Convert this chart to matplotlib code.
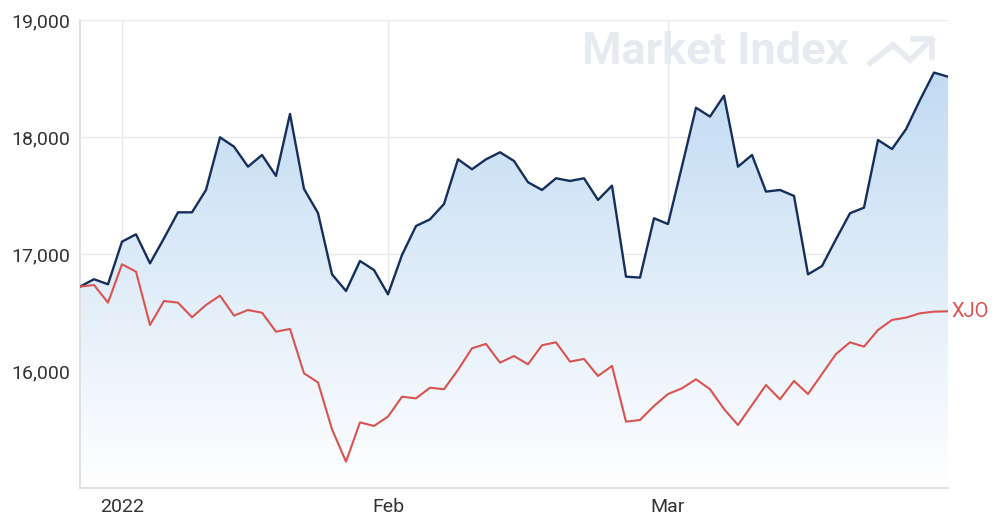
import matplotlib
matplotlib.use("Agg")
import matplotlib.pyplot as plt
import numpy as np
from matplotlib.colors import LinearSegmentedColormap

# trading-day index, values (both series rebased to the same start)
stock = [16721, 16784, 16741, 17105, 17168, 16920, 17134, 17356, 17356, 17547,
         17997, 17917, 17746, 17846, 17667, 18197, 17556, 17350, 16826, 16684,
         16940, 16863, 16655, 16991, 17239, 17296, 17427, 17809, 17724, 17809,
         17869, 17795, 17613, 17547, 17647, 17624, 17647, 17462, 17584, 16806,
         16798, 17305, 17256, 17750, 18250, 18174, 18353, 17746, 17846, 17533,
         17547, 17496, 16826, 16897, 17126, 17348, 17396, 17974, 17897, 18066,
         18316, 18550, 18515]
xjo = [16721, 16735, 16584, 16912, 16849, 16393, 16598, 16584, 16459, 16564,
       16644, 16473, 16521, 16498, 16336, 16359, 15980, 15902, 15502, 15225,
       15561, 15530, 15610, 15780, 15766, 15857, 15844, 16009, 16194, 16231,
       16071, 16128, 16057, 16220, 16245, 16080, 16103, 15957, 16043, 15567,
       15581, 15701, 15803, 15852, 15929, 15844, 15675, 15538, 15709, 15880,
       15758, 15915, 15803, 15974, 16145, 16245, 16208, 16350, 16436, 16456,
       16493, 16507, 16510]
tick_pos = [3, 22, 42]
tick_labels = ["2022", "Feb", "Mar"]
y_ticks = [16000, 17000, 18000, 19000]

x = np.arange(len(stock))

plt.rcParams["font.family"] = ["Roboto", "DejaVu Sans"]
fig = plt.figure(figsize=(10, 5.25), dpi=100)
ax = fig.add_axes([0.08, 0.0705, 0.868, 0.8915])

ax.set_xlim(0, len(stock) - 1)
ax.set_ylim(15000, 19000)

# gradient fill under the stock line
cmap = LinearSegmentedColormap.from_list("fade", ["#ffffff", "#b9d6f1"])
grad = np.linspace(0, 1, 256).reshape(-1, 1)
fill = ax.fill_between(x, stock, 15000, color="none", lw=0)
im = ax.imshow(grad, extent=[0, len(stock) - 1, 15000, 19000], aspect="auto",
               origin="lower", cmap=cmap, zorder=1)
im.set_clip_path(fill.get_paths()[0], transform=ax.transData)

ax.plot(x, stock, color="#152f5c", lw=1.7, zorder=3)
ax.plot(x, xjo, color="#d9534f", lw=1.5, zorder=3)

ax.text(1.004, xjo[-1], "XJO", transform=ax.get_yaxis_transform(),
        color="#d9534f", fontsize=14.5, va="center", ha="left")

ax.set_xticks(tick_pos)
ax.set_xticklabels(tick_labels)
ax.set_yticks(y_ticks)
ax.set_yticklabels([f"{v:,}" for v in y_ticks])
ax.tick_params(length=0, labelsize=14, colors="#333333", pad=7)
ax.grid(True, color="#e8e8e8", lw=1, zorder=0)
ax.set_axisbelow(True)
for side in ["top", "right"]:
    ax.spines[side].set_visible(False)
for side in ["left", "bottom"]:
    ax.spines[side].set_color("#dcdcdc")
    ax.spines[side].set_linewidth(1.2)

# watermark
fig.text(0.582, 0.9, "Market Index", fontsize=32.5, fontweight="bold",
         color="#e7eaf0", va="center", ha="left", zorder=1)
H = 525
icon_x = np.array([870, 893, 910, 932]) / 1000
icon_y = 1 - np.array([63, 45, 60, 39]) / H
fig.add_artist(plt.Line2D(icon_x, icon_y, color="#e7eaf0", lw=4,
                          solid_joinstyle="miter", zorder=1))
fig.add_artist(plt.Line2D([0.913, 0.932, 0.932], 1 - np.array([39, 39, 57]) / H,
                          color="#e7eaf0", lw=4, zorder=1))

fig.savefig("out.png", dpi=100)
